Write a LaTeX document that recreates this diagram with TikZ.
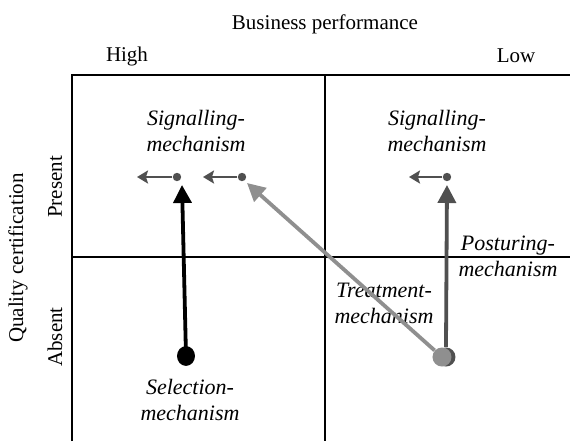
\documentclass[tikz,border=0pt]{standalone}
\usepackage{fontspec}
\setmainfont{Liberation Serif}
\usetikzlibrary{arrows.meta}

\definecolor{darkline}{HTML}{505050}
\definecolor{lightline}{HTML}{8F8F8F}

\tikzset{
  mech/.style = {font=\itshape\fontsize{11}{13}\selectfont, align=center},
  lbl/.style = {font=\fontsize{10.5}{13}\selectfont},
  smalldot/.style = {circle, fill=darkline, inner sep=0pt, minimum size=4.2pt},
  shortarrow/.style = {darkline, line width=1.4pt, -{Stealth[length=5.5pt, width=6.5pt, inset=1pt]}},
  longarrow/.style = {line width=1.9pt, -{Triangle[length=9pt, width=9pt]}}
}

\begin{document}
\begin{tikzpicture}[x=0.5pt, y=-0.5pt]
\useasboundingbox (0,0) rectangle (570,441);

% grid
\draw [line width=1.3pt] (72,441) -- (72,75) -- (570,75);
\draw [line width=1pt] (325,75) -- (325,441);
\draw [line width=1pt] (72,257) -- (570,257);

% axis labels
\node [lbl] (bp) at (325,24) {Business performance};
\node [lbl] (high) at (127,56) {High};
\node [lbl] (low) at (516,56) {Low};
\node [lbl, rotate=90] (qc) at (18,258) {Quality certification};
\node [lbl, rotate=90] (present) at (55,187) {Present};
\node [lbl, rotate=90] (absent) at (55,337) {Absent};

% mechanism labels
\node [mech] (sigL) at (196,131) {Signalling-\\mechanism};
\node [mech] (sigR) at (437,131) {Signalling-\\mechanism};
\node [mech] (post) at (508,256) {Posturing-\\mechanism};
\node [mech] (treat) at (384,303) {Treatment-\\mechanism};
\node [mech] (sel) at (190,400) {Selection-\\mechanism};

% dots
\node [smalldot] (d1) at (177,177) {};
\node [smalldot] (d2) at (242,177) {};
\node [smalldot] (d3) at (447,177) {};
\coordinate (t1) at (137,177);
\coordinate (t2) at (203,177);
\coordinate (t3) at (409,177);
\coordinate (tipS) at (182,185);
\coordinate (tipT) at (247,183);
\coordinate (tipP) at (447,185);
\node [circle, fill=black, inner sep=0pt, minimum width=9pt, yscale=1.1] (selDot) at (186,356) {};
\node [circle, fill=darkline, inner sep=0pt, minimum size=9.5pt] (treatBack) at (446,357) {};
\node [circle, fill=lightline, inner sep=0pt, minimum size=9.5pt] (treatDot) at (442,357) {};

% arrows
\draw [shortarrow] (d1) -- (t1);
\draw [shortarrow] (d2) -- (t2);
\draw [shortarrow] (d3) -- (t3);
\draw [longarrow, black] (selDot.center) -- (tipS);
\draw [longarrow, lightline] (treatDot) -- (tipT);
\draw [longarrow, darkline] (treatBack.north) -- (tipP);
\end{tikzpicture}
\end{document}
